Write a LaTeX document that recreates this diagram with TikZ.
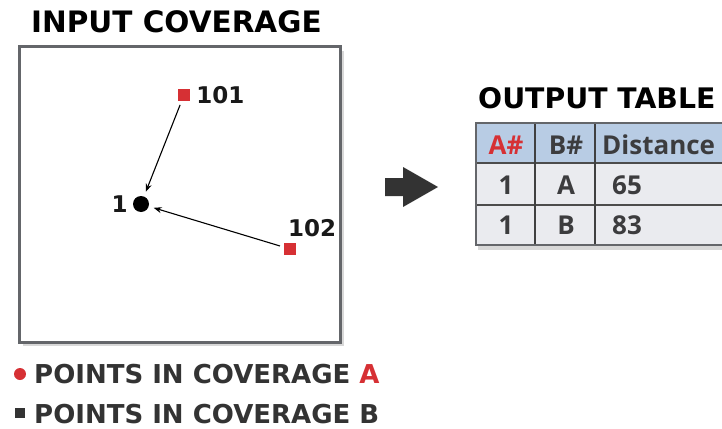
\documentclass[tikz,border=0pt]{standalone}
\usepackage{fontspec}
\usepackage{xcolor}
\usetikzlibrary{positioning,shadows,arrows.meta}
\newfontfamily\headfont{DejaVu Sans}
\newfontfamily\cellfont{Open Sans}
\definecolor{covred}{RGB}{214,48,52}
\definecolor{framegray}{RGB}{100,102,106}
\definecolor{headblue}{RGB}{184,204,228}
\definecolor{rowgray}{RGB}{234,235,239}
\definecolor{celltext}{RGB}{60,60,62}

\begin{document}
\begin{tikzpicture}[x=1pt, y=-1pt,
  every node/.style={inner sep=0pt},
  title/.style={font=\headfont\bfseries\fontsize{29.5}{29.5}\selectfont, anchor=base west},
  legend/.style={font=\headfont\bfseries\fontsize{26}{26}\selectfont, anchor=base west, text=black!80},
  ptlabel/.style={font=\headfont\bfseries\fontsize{23}{23}\selectfont, text=black!90},
  ptA/.style={fill=covred, minimum size=12pt},
  ptB/.style={circle, fill=black, minimum size=16pt},
  link/.style={-{Stealth[length=8pt,width=6pt]}, line width=1.1pt, shorten >=5pt, shorten <=4pt},
  cell/.style={font=\cellfont\bfseries\fontsize{26}{26}\selectfont, text=celltext}]
\useasboundingbox (0,0) rectangle (722,428);
\clip (0,0) rectangle (722,428);

% input coverage
\node[title] (intitle) at (31,33) {INPUT COVERAGE};
\path[fill=white, draw=framegray, line width=3pt,
  drop shadow={shadow xshift=4pt, shadow yshift=-4pt, fill=black!30}] (19,47) rectangle (340,342);

\node[ptA] (p101) at (184,95) {};
\node[ptlabel, right=6pt of p101] (l101) {101};
\node[ptB] (p1) at (141,204) {};
\node[ptlabel, left=5pt of p1] (l1) {1};
\node[ptA] (p102) at (290,249) {};
\node[ptlabel] (l102) at (312,228) {102};
\draw[link] (p101) -- (p1);
\draw[link] (p102) -- (p1);

% big arrow
\fill[black!80] (385,178) -- (403,178) -- (403,167) -- (438,187) -- (403,207) -- (403,196) -- (385,196) -- cycle;

% output table
\node[title, font=\headfont\bfseries\fontsize{28.3}{28.3}\selectfont] (outtitle) at (478,108) {OUTPUT TABLE};
\path[fill=rowgray, drop shadow={shadow xshift=2pt, shadow yshift=-5pt, fill=black!30}] (476,123) rectangle (740,245);
\fill[headblue] (476,123) rectangle (740,163);
\draw[black!70, line width=1.5pt] (476,163) -- (740,163) (476,205) -- (740,205);
\draw[black!75, line width=2pt] (535,123) -- (535,245) (595,123) -- (595,245);
\draw[framegray, line width=2pt] (476,123) rectangle (740,245);

\node[cell, text=covred] (hA) at (506,145) {A\#};
\node[cell] (hB) at (566,145) {B\#};
\node[cell, anchor=west] (hD) at (602,145) {Distance};
\foreach \a/\b/\d [count=\r] in {1/A/65, 1/B/83} {
  \node[cell] (a\r) at (506,145+40*\r) {\a};
  \node[cell] (b\r) at (566,145+40*\r) {\b};
  \node[cell, anchor=west] (d\r) at (612,145+40*\r) {\d};
}

% legend
\fill[covred] (20,374) circle (6pt);
\node[legend] (legA) at (34,383) {POINTS IN COVERAGE \textcolor{covred}{A}};
\fill[black!80] (15,408) rectangle (25,418);
\node[legend] (legB) at (34,423) {POINTS IN COVERAGE B};
\end{tikzpicture}
\end{document}
